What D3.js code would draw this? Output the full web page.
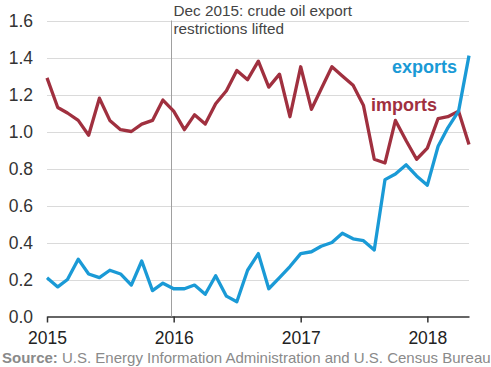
<!DOCTYPE html>
<html>
<head>
<meta charset="utf-8">
<script src="https://cdn.jsdelivr.net/npm/d3@7"></script>
<style>
  body { margin: 0; background: #fff; }
  svg { display: block; font-family: "Liberation Sans", Arial, sans-serif; }
</style>
</head>
<body>
<div id="chart"></div>
<script>
// monthly values, Jan 2015 - May 2018 (million barrels per day)
const imports = [1.29,1.13,1.10,1.06,0.98,1.18,1.06,1.01,1.00,1.04,1.06,1.17,
                 1.11,1.01,1.09,1.04,1.15,1.22,1.33,1.28,1.38,1.24,1.31,1.08,
                 1.35,1.12,1.23,1.35,1.30,1.25,1.14,0.85,0.83,1.06,0.95,0.85,
                 0.91,1.07,1.08,1.11,0.93];
const exportsData = [0.21,0.16,0.20,0.31,0.23,0.21,0.25,0.23,0.17,0.30,0.14,0.18,
                 0.15,0.15,0.17,0.12,0.22,0.11,0.08,0.25,0.34,0.15,0.21,0.27,
                 0.34,0.35,0.38,0.40,0.45,0.42,0.41,0.36,0.74,0.77,0.82,0.76,
                 0.71,0.92,1.02,1.11,1.41];
const yTicks = [0, 0.2, 0.4, 0.6, 0.8, 1.0, 1.2, 1.4, 1.6];
const xTickYears = [2015, 2016, 2017, 2018];
const annotation = ["Dec 2015: crude oil export", "restrictions lifted"];

const months = d3.timeMonth.range(new Date(2015, 0, 1), new Date(2018, 5, 1));

/*    constants    */
const width = 491;
const height = 367;
const margin = {top: 20.5, right: 22, bottom: 50.5, left: 47};

const svg = d3.select("#chart")
  .append("svg")
    .attr("width", width)
    .attr("height", height);

const xScale = d3.scaleTime()
  .domain([months[0], months[months.length - 1]])
  .range([margin.left, width - margin.right]);

const yScale = d3.scaleLinear()
  .domain([0, 1.6])
  .range([height - margin.bottom, margin.top]);

// gridlines
svg.append("g")
  .selectAll("line")
  .data(yTicks.filter(d => d > 0))
  .join("line")
    .attr("x1", margin.left)
    .attr("x2", width - margin.right)
    .attr("y1", d => Math.round(yScale(d)) + 0.5)
    .attr("y2", d => Math.round(yScale(d)) + 0.5)
    .attr("stroke", "#dadada")
    .attr("stroke-width", 1);

// y labels
svg.append("g")
  .selectAll("text")
  .data(yTicks)
  .join("text")
    .attr("x", 33)
    .attr("y", d => yScale(d) + 6)
    .attr("text-anchor", "end")
    .attr("font-size", 17.5)
    .attr("fill", "#333")
    .text(d => d3.format(".1f")(d));

// x axis
const xAxis = d3.axisBottom(xScale)
  .tickValues(xTickYears.map(y => new Date(y, 0, 1)))
  .tickFormat(d3.timeFormat("%Y"))
  .tickSize(6)
  .tickSizeOuter(0);

const xg = svg.append("g")
  .attr("transform", `translate(0, ${yScale(0)})`)
  .call(xAxis);
xg.select(".domain").attr("stroke", "#333").attr("stroke-width", 1.5);
xg.selectAll(".tick line").attr("stroke", "#333").attr("stroke-width", 1.5);
xg.selectAll(".tick text")
  .attr("font-family", "Liberation Sans, Arial, sans-serif")
  .attr("font-size", 17.5)
  .attr("fill", "#222")
  .attr("dy", "1.05em");

// Dec 2015 marker
const markX = Math.round(xScale(new Date(2015, 11, 25))) + 0.5;
svg.append("line")
  .attr("x1", markX)
  .attr("x2", markX)
  .attr("y1", yScale(1.6))
  .attr("y2", yScale(0))
  .attr("stroke", "#a0a0a0")
  .attr("stroke-width", 1);

svg.append("text")
  .attr("x", markX + 2)
  .attr("font-size", 15.3)
  .attr("fill", "#444")
  .selectAll("tspan")
  .data(annotation)
  .join("tspan")
    .attr("x", markX + 2)
    .attr("y", (d, i) => 16 + i * 18)
    .text(d => d);

// lines
const line = d3.line()
  .x((d, i) => xScale(months[i]))
  .y(d => yScale(d));

svg.append("path")
  .datum(imports)
  .attr("fill", "none")
  .attr("stroke", "#a0303f")
  .attr("stroke-width", 3.3)
  .attr("stroke-linejoin", "round")
  .attr("d", line);

svg.append("path")
  .datum(exportsData)
  .attr("fill", "none")
  .attr("stroke", "#1a9ad6")
  .attr("stroke-width", 3.3)
  .attr("stroke-linejoin", "round")
  .attr("d", line);

// series labels
svg.append("text")
  .attr("x", 457)
  .attr("y", 73)
  .attr("text-anchor", "end")
  .attr("font-size", 18)
  .attr("font-weight", "bold")
  .attr("fill", "#1a9ad6")
  .text("exports");

svg.append("text")
  .attr("x", 437)
  .attr("y", 111)
  .attr("text-anchor", "end")
  .attr("font-size", 18)
  .attr("font-weight", "bold")
  .attr("fill", "#a0303f")
  .text("imports");

// source
const src = svg.append("text")
  .attr("x", 2)
  .attr("y", 363)
  .attr("font-size", 15)
  .attr("fill", "#8a8a8a");
src.append("tspan").attr("font-weight", "bold").text("Source:");
src.append("tspan").text(" U.S. Energy Information Administration and U.S. Census Bureau");
</script>
</body>
</html>
